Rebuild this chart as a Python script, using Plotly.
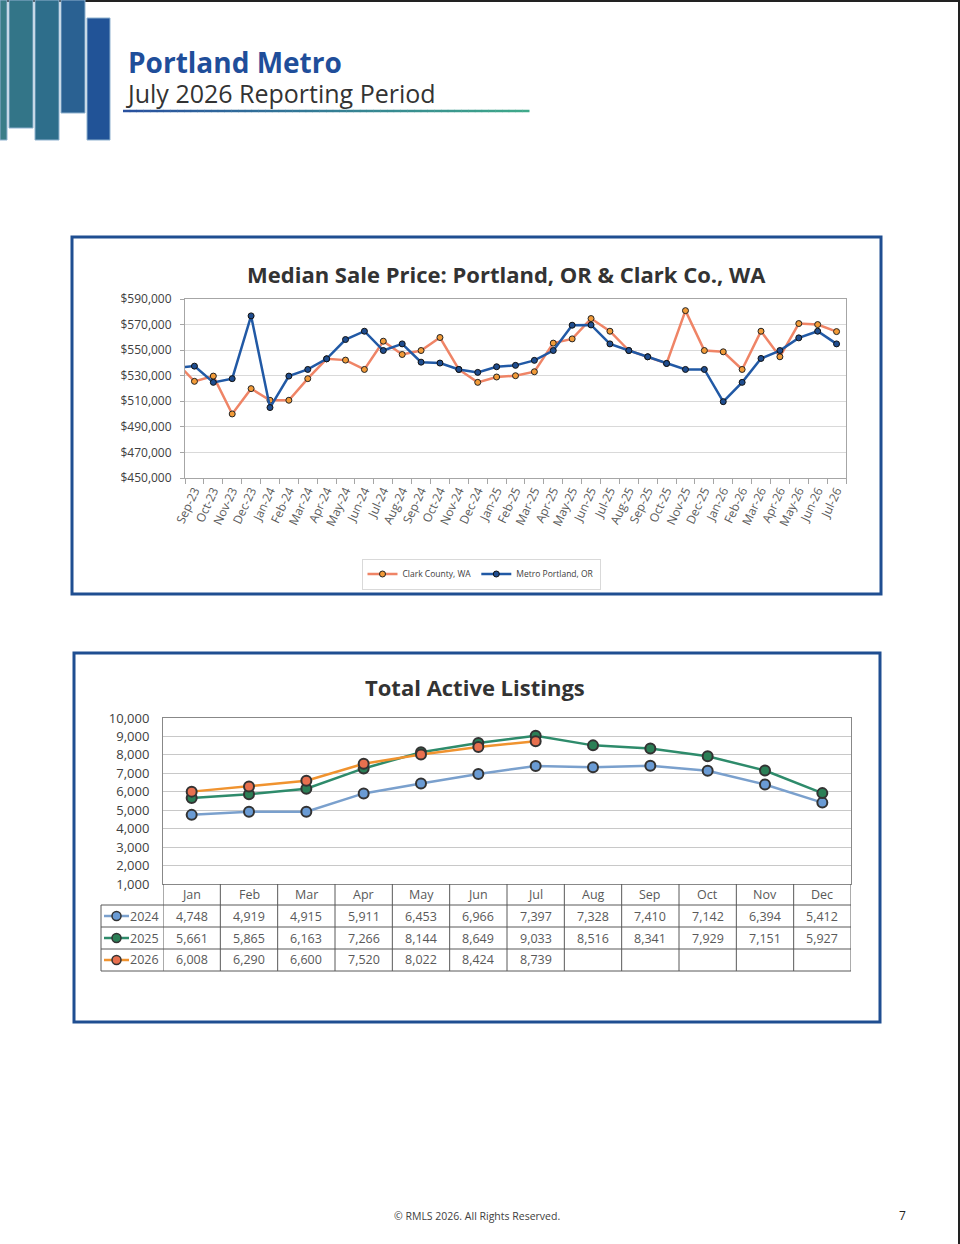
import plotly.graph_objects as go

# page size in pixels
W = 960
H = 1244

# median sale price chart (Aug-23 sits just outside the visible range)
price_months = ["Aug-23", "Sep-23", "Oct-23", "Nov-23", "Dec-23",
                "Jan-24", "Feb-24", "Mar-24", "Apr-24", "May-24", "Jun-24",
                "Jul-24", "Aug-24", "Sep-24", "Oct-24", "Nov-24", "Dec-24",
                "Jan-25", "Feb-25", "Mar-25", "Apr-25", "May-25", "Jun-25",
                "Jul-25", "Aug-25", "Sep-25", "Oct-25", "Nov-25", "Dec-25",
                "Jan-26", "Feb-26", "Mar-26", "Apr-26", "May-26", "Jun-26",
                "Jul-26"]
clark_county = [541000, 525600, 529700, 500100, 519900,
                510800, 510800, 527700, 543200, 542200, 534900,
                557000, 546600, 549700, 559900, 534900, 524800,
                529000, 530000, 533100, 555500, 558800, 574700,
                564800, 549700, 544800, 539600, 580900, 549700,
                548700, 534900, 564800, 544800, 570800, 570000,
                564500]
metro_portland = [536000, 537500, 524800, 527700, 576800,
                  505100, 529700, 534900, 543200, 558300, 564800,
                  549700, 554900, 540600, 539900, 534900, 532600,
                  537000, 538100, 542000, 549700, 569500, 569700,
                  554900, 549700, 544800, 539600, 534900, 534900,
                  509700, 524800, 543500, 549700, 559600, 564800,
                  554900]

# total active listings chart
listing_months = ["Jan", "Feb", "Mar", "Apr", "May", "Jun",
                  "Jul", "Aug", "Sep", "Oct", "Nov", "Dec"]
listings_2024 = [4748, 4919, 4915, 5911, 6453, 6966, 7397, 7328, 7410, 7142, 6394, 5412]
listings_2025 = [5661, 5865, 6163, 7266, 8144, 8649, 9033, 8516, 8341, 7929, 7151, 5927]
listings_2026 = [6008, 6290, 6600, 7520, 8022, 8424, 8739]
listing_years = ["2024", "2025", "2026"]

FONT = "Open Sans"


# page pixel -> paper fraction
def px(x):
    return x / W


def py(y):
    return 1 - y / H


def label(text, x, y, size, color, xanchor="center", bold=False, xref="paper"):
    if bold:
        text = "<b>" + text + "</b>"
    return dict(text=text, xref=xref, yref="paper",
                x=px(x) if xref == "paper" else x, y=py(y),
                xanchor=xanchor, yanchor="middle", showarrow=False,
                font=dict(family=FONT, size=size, color=color))


def main():
    fig = go.Figure()

    # --- chart 1 traces
    fig.add_trace(go.Scatter(
        x=price_months, y=clark_county, name="Clark County, WA",
        mode="lines+markers", xaxis="x", yaxis="y",
        line=dict(color="#ef8466", width=2.5),
        marker=dict(size=6, color="#f29b38", line=dict(color="#222", width=1)),
    ))
    fig.add_trace(go.Scatter(
        x=price_months, y=metro_portland, name="Metro Portland, OR",
        mode="lines+markers", xaxis="x", yaxis="y",
        line=dict(color="#2159a5", width=2.5),
        marker=dict(size=6, color="#1f4d8f", line=dict(color="#111", width=1)),
    ))

    # --- chart 2 traces
    year_styles = [
        ("#7aa0cd", "#6a9bd4"),
        ("#2e8b6b", "#2b7f56"),
        ("#f0932f", "#e8704f"),
    ]
    year_values = [listings_2024, listings_2025, listings_2026]
    for yr, vals, (lc, mc) in zip(listing_years, year_values, year_styles):
        fig.add_trace(go.Scatter(
            x=listing_months[:len(vals)], y=vals, name=yr,
            mode="lines+markers", xaxis="x2", yaxis="y2", showlegend=False,
            line=dict(color=lc, width=2.5),
            marker=dict(size=10, color=mc, line=dict(color="#333", width=2)),
        ))

    shapes = []
    annotations = []

    # page border (top and right)
    shapes.append(dict(type="line", xref="paper", yref="paper", x0=0, x1=1,
                       y0=py(1), y1=py(1), line=dict(color="#222", width=2)))
    shapes.append(dict(type="line", xref="paper", yref="paper", x0=px(959), x1=px(959),
                       y0=0, y1=1, line=dict(color="#222", width=2)))

    # header bars
    bars = [(0, 7, 0, 140, "#3a7d88"), (9, 33, 0, 128, "#337588"),
            (35, 59, 0, 140, "#2e6e8b"), (61, 85, 0, 113, "#2a6192"),
            (87, 110, 18, 140, "#215397")]
    for x0, x1, y0, y1, c in bars:
        shapes.append(dict(type="rect", xref="paper", yref="paper",
                           x0=px(x0), x1=px(x1), y0=py(y1), y1=py(y0),
                           fillcolor=c, line=dict(color="#8fb2cf", width=1)))

    # gradient underline under header
    n = 60
    c0 = (42, 82, 160)
    c1 = (63, 169, 138)
    for i in range(n):
        t = i / (n - 1)
        col = "rgb(%d,%d,%d)" % tuple(int(a + (b - a) * t) for a, b in zip(c0, c1))
        xa = 123 + (529 - 123) * i / n
        xb = 123 + (529 - 123) * (i + 1) / n
        shapes.append(dict(type="line", xref="paper", yref="paper",
                           x0=px(xa), x1=px(xb + 0.5), y0=py(111), y1=py(111),
                           line=dict(color=col, width=2.5)))

    # header: both lines in one text block
    header = ("<span style='font-size:28px;color:#1f4e9a'><b>Portland Metro</b></span>"
              "<br><span style='font-size:25px;color:#333'>July 2026 Reporting Period</span>")
    annotations.append(dict(text=header, xref="paper", yref="paper",
                            x=px(124), y=py(76), xanchor="left", yanchor="middle",
                            align="left", showarrow=False,
                            font=dict(family=FONT, size=23, color="#333")))

    # chart frames
    for x0, x1, y0, y1 in [(72, 881, 237, 594), (74, 880, 653, 1022)]:
        shapes.append(dict(type="rect", xref="paper", yref="paper",
                           x0=px(x0), x1=px(x1), y0=py(y1), y1=py(y0),
                           line=dict(color="#1f4e91", width=3)))

    # chart titles
    annotations.append(label("Median Sale Price: Portland, OR & Clark Co., WA",
                             507, 274, 22, "#333", bold=True))
    annotations.append(label("Total Active Listings", 475, 687, 22, "#333", bold=True))

    # --- data table under chart 2
    rows = [884, 905, 927, 949, 971]
    line_c = "#595959"
    for r in rows[1:]:
        shapes.append(dict(type="line", xref="paper", yref="paper",
                           x0=px(101), x1=px(851), y0=py(r), y1=py(r),
                           line=dict(color=line_c, width=1)))
    for i in range(len(listing_months) + 1):
        shapes.append(dict(type="line", xref="x2", yref="paper",
                           x0=i - 0.5, x1=i - 0.5, y0=py(884), y1=py(971),
                           line=dict(color=line_c, width=1)))
    shapes.append(dict(type="line", xref="paper", yref="paper",
                       x0=px(101), x1=px(101), y0=py(905), y1=py(971),
                       line=dict(color=line_c, width=1)))

    for m in listing_months:
        annotations.append(label(m, m, (rows[0] + rows[1]) / 2, 12.5, "#595959", xref="x2"))
    for k, (yr, vals, (lc, mc)) in enumerate(zip(listing_years, year_values, year_styles)):
        yc = (rows[k + 1] + rows[k + 2]) / 2
        for m, v in zip(listing_months, vals):
            annotations.append(label(f"{v:,}", m, yc, 12.5, "#595959", xref="x2"))
        # legend key
        shapes.append(dict(type="line", xref="paper", yref="paper",
                           x0=px(104), x1=px(129), y0=py(yc), y1=py(yc),
                           line=dict(color=lc, width=2.5)))
        shapes.append(dict(type="circle", xref="paper", yref="paper",
                           x0=px(112), x1=px(121), y0=py(yc + 4.5), y1=py(yc - 4.5),
                           fillcolor=mc, line=dict(color="#333", width=1.5)))
        annotations.append(label(yr, 161, yc, 12.5, "#595959", "right"))

    # footer
    annotations.append(label("© RMLS 2026. All Rights Reserved.", 477, 1216, 10.5, "#404040"))
    annotations.append(label("7", 902, 1215, 12, "#222"))

    fig.update_layout(
        width=W, height=H,
        margin=dict(l=0, r=0, t=0, b=0, autoexpand=False),
        paper_bgcolor="white", plot_bgcolor="white",
        font=dict(family=FONT, color="#404040"),
        shapes=shapes, annotations=annotations,
        showlegend=True,
        legend=dict(orientation="h", x=px(481), y=py(574), xanchor="center",
                    yanchor="middle", bgcolor="white", bordercolor="#d9d9d9",
                    borderwidth=1, itemwidth=30,
                    font=dict(family=FONT, size=8.5, color="#404040")),
        xaxis=dict(
            domain=[px(185), px(846)], anchor="y", type="category",
            categoryorder="array", categoryarray=price_months,
            range=[0.5, len(price_months) - 0.5], automargin=False,
            tickson="boundaries", ticks="outside", ticklen=5, tickcolor="#a6a6a6",
            tickangle=-65, tickfont=dict(family=FONT, size=12, color="#595959"),
            showgrid=False, showline=True, linecolor="#a6a6a6", mirror=True,
            zeroline=False,
        ),
        yaxis=dict(
            domain=[py(478), py(299)], anchor="x", automargin=False,
            range=[450000, 590000], tick0=450000, dtick=20000, tickformat="$,.0f",
            ticks="outside", ticklen=4, tickcolor="#a6a6a6", ticklabelstandoff=6,
            tickfont=dict(family=FONT, size=12, color="#404040"),
            showgrid=True, gridcolor="#d9d9d9", showline=True,
            linecolor="#a6a6a6", mirror=True, zeroline=False,
        ),
        xaxis2=dict(
            domain=[px(163), px(851)], anchor="y2", type="category",
            categoryorder="array", categoryarray=listing_months,
            range=[-0.5, len(listing_months) - 0.5], automargin=False,
            showticklabels=False, ticks="", showgrid=False,
            showline=True, linecolor="#888", mirror=True, zeroline=False,
        ),
        yaxis2=dict(
            domain=[py(884), py(718)], anchor="x2", automargin=False,
            range=[1000, 10000], dtick=1000, tickformat=",d",
            ticks="", ticklabelstandoff=10,
            tickfont=dict(family=FONT, size=13, color="#404040"),
            showgrid=True, gridcolor="#c8c8c8", showline=True,
            linecolor="#888", mirror=True, zeroline=False,
        ),
    )

    fig.write_html("out.html", config={"displayModeBar": False},
                   post_script="document.body.style.margin='0';")


if __name__ == '__main__':
    main()
